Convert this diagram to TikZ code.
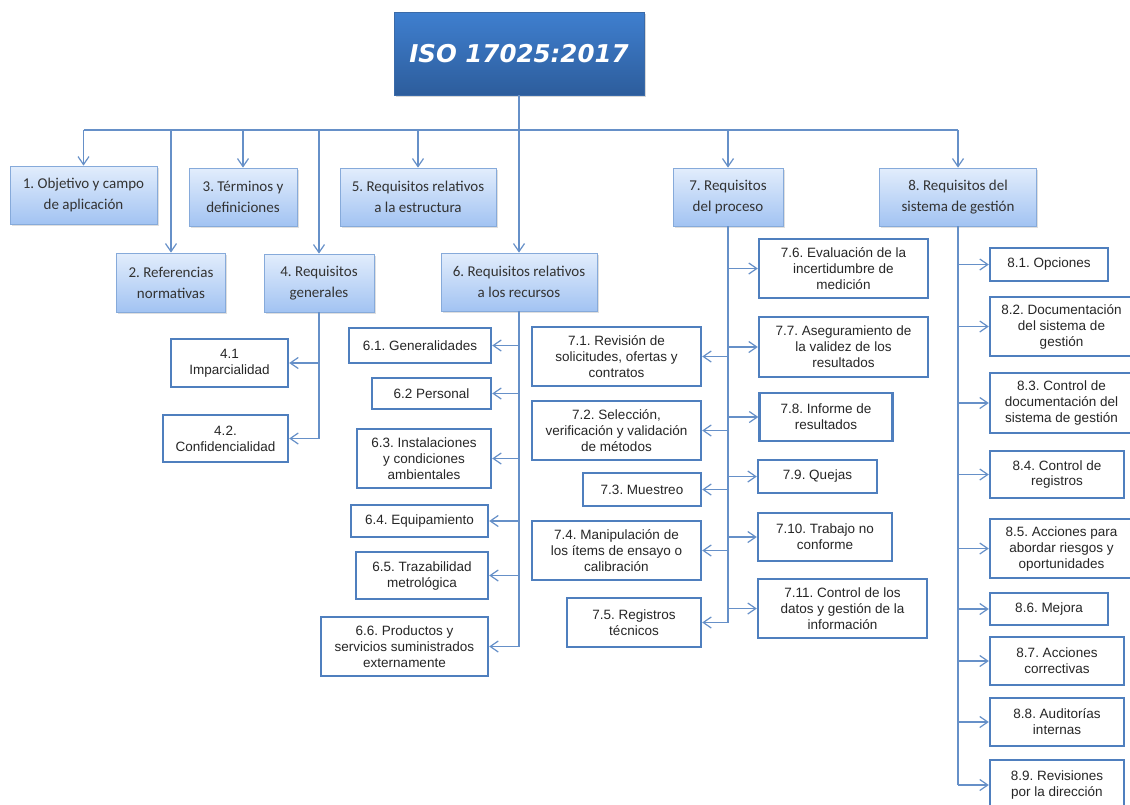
\documentclass[tikz,border=0pt]{standalone}
\usepackage{fontspec}
\setmainfont{Liberation Sans}
\newfontfamily\calibri{Carlito}
\newfontfamily\titulofont{DejaVu Sans}
\usetikzlibrary{
    arrows.meta,
    positioning,
    shadows
}
\definecolor{tittop}{HTML}{3F7FCF}
\definecolor{titbot}{HTML}{2D5D9C}
\definecolor{titborde}{HTML}{3A6AA8}
\definecolor{cajatop}{HTML}{E2EDFC}
\definecolor{cajabot}{HTML}{A2C3F2}
\definecolor{cajaborde}{HTML}{86AADA}
\definecolor{azul}{HTML}{4F7FBE}
\definecolor{conector}{HTML}{6690C8}
\frenchspacing

\begin{document}
\begin{tikzpicture}[x=1pt, y=-1pt,
    titulo/.style={draw=titborde, top color=tittop, bottom color=titbot, text=white,
        font=\titulofont\bfseries\itshape\fontsize{24.5}{28}\selectfont,
        minimum width=250, minimum height=83,
        drop shadow={shadow xshift=2pt, shadow yshift=-2pt, opacity=0.3}},
    caja/.style={draw=cajaborde, line width=0.8pt, top color=cajatop, bottom color=cajabot,
        align=center, text=black!80, inner sep=2pt,
        font=\calibri\fontsize{15}{21}\selectfont,
        drop shadow={shadow xshift=1.5pt, shadow yshift=-1.5pt, opacity=0.25}},
    hoja/.style={draw=azul, line width=2.4pt, fill=white, align=center, inner sep=2pt,
        text=black!85, font=\fontsize{13.5}{16}\selectfont},
    con/.style={draw=conector, line width=1.2pt},
    flecha/.style={con, -{Straight Barb[length=8pt,width=11pt]}}
]

\useasboundingbox (0,0) rectangle (1130,804);
\fill[white] (0,0) rectangle (1130,804);

% Title
\node[titulo] (iso) at (519,53.5) {ISO 17025:2017};

% Chapters
\node[caja, minimum width=147, minimum height=58] (n1) at (83.5,195) {1. Objetivo y campo\\de aplicación};
\node[caja, minimum width=108, minimum height=58] (n3) at (243,197) {3. Términos y\\definiciones};
\node[caja, minimum width=156, minimum height=58] (n5) at (418,197) {5. Requisitos relativos\\a la estructura};
\node[caja, minimum width=110, minimum height=58] (n7) at (728,197) {7. Requisitos\\del proceso};
\node[caja, minimum width=157, minimum height=58] (n8) at (958,197) {8. Requisitos del\\sistema de gestión};
\node[caja, minimum width=109, minimum height=59] (n2) at (171,282.5) {2. Referencias\\normativas};
\node[caja, minimum width=110, minimum height=58] (n4) at (319,283) {4. Requisitos\\generales};
\node[caja, minimum width=156, minimum height=58] (n6) at (519,282) {6. Requisitos relativos\\a los recursos};

% Bus from the title
\coordinate (bus) at (519,130);
\draw[con] (bus -| n1.north) -- (bus -| n8.north);
\draw[flecha] (iso.south) -- (n6.north);
\foreach \n in {n1,n2,n3,n4,n5,n7,n8}
    \draw[flecha] (bus -| \n.north) -- (\n.north);

% Chapter 4
\node[hoja, minimum width=117, minimum height=48] (n41) at (229.5,363) {4.1\\Imparcialidad};
\node[hoja, minimum width=125, minimum height=47] (n42) at (225.5,438.5) {4.2.\\Confidencialidad};
\draw[con] (n4.south) -- (n4.south |- n42.east);
\foreach \n in {n41,n42}
    \draw[flecha] (n4.south |- \n.east) -- (\n.east);

% Chapter 6
\node[hoja, minimum width=142, minimum height=35] (n61) at (420,345.5) {6.1. Generalidades};
\node[hoja, minimum width=119, minimum height=31] (n62) at (431.5,393.5) {6.2 Personal};
\node[hoja, minimum width=134, minimum height=59] (n63) at (424,458.5) {6.3. Instalaciones\\y condiciones\\ambientales};
\node[hoja, minimum width=137, minimum height=32] (n64) at (419.5,521) {6.4. Equipamiento};
\node[hoja, minimum width=132, minimum height=47] (n65) at (422,575.5) {6.5. Trazabilidad\\metrológica};
\node[hoja, minimum width=167, minimum height=59] (n66) at (404.5,646.5) {6.6. Productos y\\servicios suministrados\\externamente};
\draw[con] (n6.south) -- (n6.south |- n66.east);
\foreach \n in {n61,n62,n63,n64,n65,n66}
    \draw[flecha] (n6.south |- \n.east) -- (\n.east);

% Chapter 7, left side
\node[hoja, minimum width=169, minimum height=59] (n71) at (616.5,356.5) {7.1. Revisión de\\solicitudes, ofertas y\\contratos};
\node[hoja, minimum width=169, minimum height=59] (n72) at (616.5,430.5) {7.2. Selección,\\verificación y validación\\de métodos};
\node[hoja, minimum width=118, minimum height=33] (n73) at (642,489.5) {7.3. Muestreo};
\node[hoja, minimum width=169, minimum height=59] (n74) at (616.5,550.5) {7.4. Manipulación de\\los ítems de ensayo o\\calibración};
\node[hoja, minimum width=134, minimum height=49] (n75) at (634,622.5) {7.5. Registros\\técnicos};

% Chapter 7, right side
\node[hoja, minimum width=169, minimum height=59] (n76) at (843.5,268.5) {7.6. Evaluación de la\\incertidumbre de\\medición};
\node[hoja, minimum width=169, minimum height=60] (n77) at (843.5,347) {7.7. Aseguramiento de\\la validez de los\\resultados};
\node[hoja, minimum width=133, minimum height=48] (n78) at (826,417) {7.8. Informe de\\resultados};
\node[hoja, minimum width=119, minimum height=33] (n79) at (817.5,476.5) {7.9. Quejas};
\node[hoja, minimum width=134, minimum height=48] (n710) at (825,537) {7.10. Trabajo no\\conforme};
\node[hoja, minimum width=169, minimum height=59] (n711) at (842.5,608.5) {7.11. Control de los\\datos y gestión de la\\información};

\draw[con] (n7.south) -- (n7.south |- n75.east);
\foreach \n in {n71,n72,n73,n74,n75}
    \draw[flecha] (n7.south |- \n.east) -- (\n.east);
\foreach \n in {n76,n77,n78,n79,n710,n711}
    \draw[flecha] (n7.south |- \n.west) -- (\n.west);

% Chapter 8
\node[hoja, minimum width=118, minimum height=33] (n81) at (1049,264.5) {8.1. Opciones};
\node[hoja, minimum width=143, minimum height=59] (n82) at (1061.5,326.5) {8.2. Documentación\\del sistema de\\gestión};
\node[hoja, minimum width=143, minimum height=60] (n83) at (1061.5,403) {8.3. Control de\\documentación del\\sistema de gestión};
\node[hoja, minimum width=134, minimum height=47] (n84) at (1057,474.5) {8.4. Control de\\registros};
\node[hoja, minimum width=143, minimum height=59] (n85) at (1061.5,548.5) {8.5. Acciones para\\abordar riesgos y\\oportunidades};
\node[hoja, minimum width=118, minimum height=32] (n86) at (1049,609) {8.6. Mejora};
\node[hoja, minimum width=134, minimum height=48] (n87) at (1057,661) {8.7. Acciones\\correctivas};
\node[hoja, minimum width=134, minimum height=48] (n88) at (1057,722) {8.8. Auditorías\\internas};
\node[hoja, minimum width=134, minimum height=50] (n89) at (1057,785) {8.9. Revisiones\\por la dirección};
\draw[con] (n8.south) -- (n8.south |- n89.west);
\foreach \n in {n81,n82,n83,n84,n85,n86,n87,n88,n89}
    \draw[flecha] (n8.south |- \n.west) -- (\n.west);

\end{tikzpicture}
\end{document}
